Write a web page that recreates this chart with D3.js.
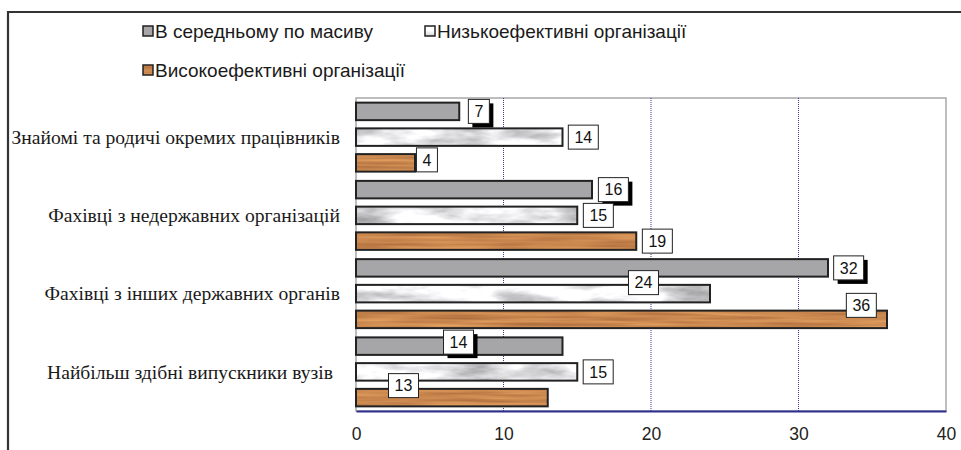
<!DOCTYPE html>
<html><head><meta charset="utf-8">
<script src="https://cdn.jsdelivr.net/npm/d3@7"></script>
<style>
html,body{margin:0;padding:0;background:#fff;}
svg{display:block;}
</style></head>
<body>
<svg id="chart" width="961" height="450"></svg>
<script>
// ---- data ----
const categories = [
  "Знайомі та родичі окремих працівників",
  "Фахівці з недержавних організацій",
  "Фахівці з інших державних органів",
  "Найбільш здібні випускники вузів"
];
const seriesNames = ["В середньому по масиву", "Низькоефективні організації", "Високоефективні організації"];
const avgValues  = [7, 16, 32, 14];
const lowValues  = [14, 15, 24, 15];
const highValues = [4, 19, 36, 13];
const xTicks = [0, 10, 20, 30, 40];

// ---- label placement (layout, separate from data): box centre in value units, vertical shift in px ----
const labelCentre = [
  [8.33, 17.45, 33.4, 6.95],
  [15.41, 16.43, 19.49, 16.42],
  [4.81, 20.43, 34.26, 3.22]
];
const labelShift = [
  [0, 0, 0, -4],
  [0, 0, -11, 0],
  [-3, 0, -14, -12]
];

const SANS = "'Liberation Sans', Arial, sans-serif";
const SERIF = "'Liberation Serif', 'Times New Roman', serif";

const svg = d3.select("#chart");
const W = 961, H = 450;
const plot = {left: 356, right: 946, top: 98, bottom: 411};

// ---- textures ----
const defs = svg.append("defs");
const marble = defs.append("filter").attr("id", "marble")
  .attr("x", 0).attr("y", 0).attr("width", 1).attr("height", 1)
  .attr("color-interpolation-filters", "sRGB");
marble.append("feTurbulence").attr("type", "fractalNoise")
  .attr("baseFrequency", "0.018 0.06").attr("numOctaves", 4).attr("seed", 11).attr("result", "n");
marble.append("feColorMatrix").attr("in", "n").attr("type", "matrix")
  .attr("values", "0.75 0 0 0 0.53  0.75 0 0 0 0.53  0.75 0 0 0 0.54  0 0 0 0 1").attr("result", "c");
marble.append("feComposite").attr("in", "c").attr("in2", "SourceGraphic").attr("operator", "in");

const wood = defs.append("filter").attr("id", "wood")
  .attr("x", 0).attr("y", 0).attr("width", 1).attr("height", 1)
  .attr("color-interpolation-filters", "sRGB");
wood.append("feTurbulence").attr("type", "fractalNoise")
  .attr("baseFrequency", "0.012 0.3").attr("numOctaves", 2).attr("seed", 3).attr("result", "n");
wood.append("feColorMatrix").attr("in", "n").attr("type", "matrix")
  .attr("values", "0.3 0 0 0 0.64  0.28 0 0 0 0.39  0.2 0 0 0 0.21  0 0 0 0 1").attr("result", "c");
wood.append("feComposite").attr("in", "c").attr("in2", "SourceGraphic").attr("operator", "in");

const seriesStyle = [
  {fill: "#A6A6A9", filter: null, shadow: true},
  {fill: "#E6E6E6", filter: "url(#marble)", shadow: false},
  {fill: "#C7824A", filter: "url(#wood)", shadow: false}
];
const seriesValues = [avgValues, lowValues, highValues];

// ---- frame ----
svg.append("path").attr("d", `M8,${H} V12 H${W}`)
  .attr("fill", "none").attr("stroke", "#333").attr("stroke-width", 2.2);

// ---- scales ----
const x = d3.scaleLinear().domain([0, 40]).range([plot.left, plot.right]);
const y = d3.scaleBand().domain(categories).range([plot.top, plot.bottom]).padding(0);
const ys = d3.scaleBand().domain([0, 1, 2]).range([0, y.bandwidth()]).paddingInner(0.32).paddingOuter(0.18);

// plot area background + border
svg.append("rect").attr("x", plot.left).attr("y", plot.top)
  .attr("width", plot.right - plot.left).attr("height", plot.bottom - plot.top)
  .attr("fill", "#fff").attr("stroke", "#A8A8A8").attr("stroke-width", 1.5);

// gridlines
svg.append("g").selectAll("line").data(xTicks.filter(d => d > 0 && d < 40)).join("line")
  .attr("x1", d => x(d)).attr("x2", d => x(d))
  .attr("y1", plot.top).attr("y2", plot.bottom)
  .attr("stroke", "#3A3A9A").attr("stroke-width", 1).attr("stroke-dasharray", "1,1");

// x axis
const xAxis = d3.axisBottom(x).tickValues(xTicks).tickSize(0).tickPadding(17);
const gx = svg.append("g").attr("transform", `translate(0,${plot.bottom})`).call(xAxis);
gx.select(".domain").attr("stroke", "#2E2E8F").attr("stroke-width", 2);
gx.selectAll("text").attr("font-family", SANS)
  .attr("font-size", 17.5).attr("fill", "#222");

// category labels
svg.append("g").selectAll("text").data(categories).join("text")
  .attr("x", (d, i) => i === 3 ? 333 : 340)
  .attr("y", d => y(d) + y.bandwidth() / 2)
  .attr("dy", "0.35em").attr("text-anchor", "end")
  .attr("font-family", SERIF)
  .attr("font-size", 19.6).attr("fill", "#1a1a1a")
  .text(d => d);

// bars
seriesValues.forEach((vals, s) => {
  const g = svg.append("g");
  const st = seriesStyle[s];
  vals.forEach((v, i) => {
    const yy = y(categories[i]) + ys(s);
    const r = g.append("rect").attr("x", x(0)).attr("y", yy)
      .attr("width", x(v) - x(0)).attr("height", ys.bandwidth())
      .attr("fill", st.fill);
    if (st.filter) r.attr("filter", st.filter);
    g.append("rect").attr("x", x(0)).attr("y", yy)
      .attr("width", x(v) - x(0)).attr("height", ys.bandwidth())
      .attr("fill", "none").attr("stroke", "#222").attr("stroke-width", 2);
  });
});

// data labels
seriesValues.forEach((vals, s) => {
  const g = svg.append("g");
  vals.forEach((v, i) => {
    const txt = String(v);
    const bw = txt.length > 1 ? 30 : 21, bh = 24;
    const cx = x(labelCentre[s][i]);
    const cy = y(categories[i]) + ys(s) + ys.bandwidth() / 2 + labelShift[s][i];
    if (seriesStyle[s].shadow) {
      g.append("rect").attr("x", cx - bw / 2 + 4).attr("y", cy - bh / 2 + 4)
        .attr("width", bw).attr("height", bh).attr("fill", "#000");
    }
    g.append("rect").attr("x", cx - bw / 2).attr("y", cy - bh / 2)
      .attr("width", bw).attr("height", bh)
      .attr("fill", "#fff").attr("stroke", "#222").attr("stroke-width", 1);
    g.append("text").attr("x", cx).attr("y", cy).attr("dy", "0.36em")
      .attr("text-anchor", "middle")
      .attr("font-family", SANS)
      .attr("font-size", 16).attr("fill", "#111").text(txt);
  });
});

// legend
const legendPos = [[143, 31], [425, 31], [143, 70]];
const lg = svg.append("g");
seriesNames.forEach((name, s) => {
  const [lx, ly] = legendPos[s];
  const r = lg.append("rect").attr("x", lx).attr("y", ly - 5).attr("width", 10).attr("height", 10)
    .attr("fill", seriesStyle[s].fill);
  if (seriesStyle[s].filter) r.attr("filter", seriesStyle[s].filter);
  lg.append("rect").attr("x", lx).attr("y", ly - 5).attr("width", 10).attr("height", 10)
    .attr("fill", "none").attr("stroke", "#222").attr("stroke-width", 1.5);
  lg.append("text").attr("x", lx + 12).attr("y", ly).attr("dy", "0.35em")
    .attr("font-family", SANS)
    .attr("font-size", 19).attr("fill", "#1a1a1a").text(name);
});
</script>
</body></html>
